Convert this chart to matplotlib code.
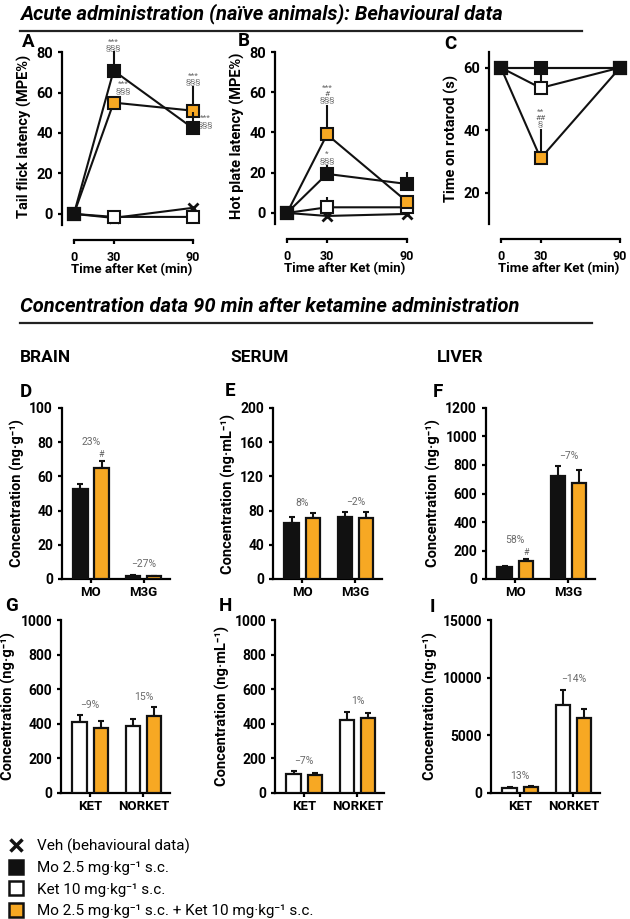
import matplotlib
matplotlib.use('Agg')
import matplotlib.pyplot as plt
from matplotlib.lines import Line2D
import numpy as np

plt.rcParams['font.family'] = ['Roboto', 'DejaVu Sans']
plt.rcParams['font.weight'] = 'bold'
plt.rcParams['axes.labelweight'] = 'bold'

W, H = 630, 919
ORANGE = '#F7A823'
BLACK = '#111111'
GREY = '#6a6a6a'

# --- behavioural data (time course) ---
times = [0, 30, 90]

tail_veh = [0, -2, 3]
tail_mo = [0, 70.8, 42.3]
tail_mo_err = [0, 9.5, 8]
tail_ket = [0, -1.5, -1.5]
tail_ket_err = [0, 1, 1]
tail_combo = [0, 55, 51]
tail_combo_err = [0, 3, 12]

hot_veh = [0, -1.5, -0.5]
hot_mo = [0, 19.4, 14.4]
hot_mo_err = [0, 4.5, 6]
hot_ket = [0, 2.8, 2.8]
hot_ket_err = [0, 5, 2]
hot_combo = [0, 39, 5.6]
hot_combo_err = [0, 14.6, 3]

rot_veh = [60, 60, 60]
rot_mo = [60, 60, 60]
rot_mo_err = [0, 0, 0]
rot_ket = [60, 53.5, 60]
rot_ket_err = [0, 6.5, 0]
rot_combo = [60, 31, 60]
rot_combo_err = [0, 9.5, 0]

# --- concentrations 90 min ---
mo_cats = ['MO', 'M3G']
ket_cats = ['KET', 'NORKET']

brain_mo = [52.5, 2.0]
brain_mo_err = [3, 0.5]
brain_mo_combo = [65, 1.5]
brain_mo_combo_err = [4, 0.3]

serum_mo = [66, 72]
serum_mo_err = [7, 6]
serum_mo_combo = [71, 71]
serum_mo_combo_err = [6, 7]

liver_mo = [82, 726]
liver_mo_err = [8, 65]
liver_mo_combo = [128, 672]
liver_mo_combo_err = [12, 96]

brain_ket = [413, 388]
brain_ket_err = [35, 39]
brain_ket_combo = [375, 446]
brain_ket_combo_err = [42, 50]

serum_ket = [110, 423]
serum_ket_err = [15, 48]
serum_ket_combo = [102, 433]
serum_ket_combo_err = [13, 32]

liver_ket = [432, 7640]
liver_ket_err = [100, 1290]
liver_ket_combo = [490, 6540]
liver_ket_combo_err = [100, 750]

pct_D = ['23%', '\u221227%']
pct_E = ['8%', '\u22122%']
pct_F = ['58%', '\u22127%']
pct_G = ['\u22129%', '15%']
pct_H = ['\u22127%', '1%']
pct_I = ['13%', '\u221214%']

fig = plt.figure(figsize=(W / 100, H / 100), dpi=100)


def px_axes(x0, y0, x1, y1):
    return fig.add_axes([x0 / W, 1 - y1 / H, (x1 - x0) / W, (y1 - y0) / H])


def ftext(x, y, s, **kw):
    fig.text(x / W, 1 - y / H, s, **kw)


def style(ax):
    for s in ['top', 'right']:
        ax.spines[s].set_visible(False)
    for s in ['left', 'bottom']:
        ax.spines[s].set_linewidth(1.6)
    ax.tick_params(direction='out', length=3, width=1.6)


def time_panel(rect, ylim, yticks, ylabel, veh, ket, ket_err, combo, combo_err, mo, mo_err, spine_top):
    ax = px_axes(*rect)
    style(ax)
    zero = np.zeros(3)
    groups = [
        (ket, ket_err, 'white', 3),
        (combo, combo_err, ORANGE, 4),
        (mo, mo_err, BLACK, 5),
    ]
    ax.plot(times, veh, color=BLACK, lw=1.5, marker='x', ms=7, mew=2, zorder=2, clip_on=False)
    for vals, err, fc, z in groups:
        ax.errorbar(times, vals, yerr=[zero, err], fmt='none', ecolor=BLACK, elinewidth=1.5,
                    capsize=0, zorder=z - 0.5, clip_on=False)
        ax.plot(times, vals, color=BLACK, lw=1.5, marker='s', ms=9, mfc=fc, mec=BLACK, mew=1.5,
                zorder=z, clip_on=False)
    ax.set_xlim(-9, 96)
    ax.set_ylim(*ylim)
    ax.set_yticks(yticks)
    ax.set_xticks(times)
    ax.tick_params(axis='y', labelsize=10.5)
    ax.tick_params(axis='x', labelsize=9, pad=5)
    ax.spines['bottom'].set_position(('outward', 10.8))
    ax.spines['bottom'].set_bounds(0, 90)
    ax.spines['left'].set_bounds(ylim[0], spine_top)
    ax.set_xlabel('Time after Ket (min)', fontsize=9.5, labelpad=-1)
    ax.set_ylabel(ylabel, fontsize=10.5, labelpad=3)
    return ax


def ann(ax, x, y, s, va='bottom'):
    ax.text(x, y, s, ha='center', va=va, fontsize=6, color=GREY, fontweight='normal',
            linespacing=0.95, clip_on=False)


# ---- Panel A ----
axA = time_panel((62, 48, 201, 225), (-5.5, 82), [0, 20, 40, 60, 80], 'Tail flick latency (MPE%)',
                 tail_veh, tail_ket, tail_ket_err, tail_combo, tail_combo_err, tail_mo, tail_mo_err, 80)
ann(axA, 30, 80.5, '***\n\u00a7\u00a7\u00a7')
ann(axA, 37, 62.5, '***\n\u00a7\u00a7\u00a7', va='center')
ann(axA, 90, 63.5, '***\n\u00a7\u00a7\u00a7')
ann(axA, 99.5, 45.7, '***\n\u00a7\u00a7\u00a7', va='center')

# ---- Panel B ----
axB = time_panel((275, 48, 415, 224), (-5.5, 82), [0, 20, 40, 60, 80], 'Hot plate latency (MPE%)',
                 hot_veh, hot_ket, hot_ket_err, hot_combo, hot_combo_err, hot_mo, hot_mo_err, 80)
ann(axB, 30, 54.5, '***\n#\n\u00a7\u00a7\u00a7')
ann(axB, 30, 24.5, '*\n\u00a7\u00a7\u00a7')

# ---- Panel C ----
axC = time_panel((489, 52, 628, 224), (10, 65), [20, 40, 60], 'Time on rotarod (s)',
                 rot_veh, rot_ket, rot_ket_err, rot_combo, rot_combo_err, rot_mo, rot_mo_err, 65)
ann(axC, 30, 41, '**\n##\n\u00a7')


# ---- bar panels ----
def bar_panel(rect, cats, a_vals, a_err, a_color, b_vals, b_err, ylim, yticks, ylabel, pct, hash_idx=None):
    ax = px_axes(*rect)
    style(ax)
    x = np.arange(len(cats))
    w, off = 0.27, 0.2
    kw = dict(width=w, edgecolor=BLACK, linewidth=1.6, zorder=3)
    ekw = dict(ecolor=BLACK, elinewidth=1.5, capsize=2, capthick=1.5, fmt='none', zorder=2)
    zero = np.zeros(len(cats))
    ax.errorbar(x - off, a_vals, yerr=[zero, a_err], **ekw)
    ax.errorbar(x + off, b_vals, yerr=[zero, b_err], **ekw)
    ax.bar(x - off, a_vals, color=a_color, **kw)
    ax.bar(x + off, b_vals, color=ORANGE, **kw)
    ax.set_xlim(-0.55, 1.5)
    ax.set_ylim(*ylim)
    ax.set_yticks(yticks)
    ax.set_xticks(x)
    ax.set_xticklabels(cats)
    ax.tick_params(axis='y', labelsize=10)
    ax.tick_params(axis='x', labelsize=9.5, pad=2)
    ax.set_ylabel(ylabel, fontsize=10.5, labelpad=3)
    tops = [max(a + ae, b + be) for a, ae, b, be in zip(a_vals, a_err, b_vals, b_err)]
    for i, t in enumerate(tops):
        extra = 0
        if hash_idx is not None and i == hash_idx:
            ax.annotate('#', (x[i] + off, b_vals[i] + b_err[i]), xytext=(0, 1.5), textcoords='offset points',
                        ha='center', va='bottom', fontsize=6.5, color=GREY, fontweight='normal')
            extra = 6
        ax.annotate(pct[i], (x[i], t), xytext=(0, 4 + extra), textcoords='offset points',
                    ha='center', va='bottom', fontsize=7.5, color=GREY, fontweight='normal')
    return ax


lab_mo_g = 'Concentration (ng\u00b7g\u207b\u00b9)'
lab_mo_ml = 'Concentration (ng\u00b7mL\u207b\u00b9)'

bar_panel((62, 408, 170, 579), mo_cats, brain_mo, brain_mo_err, BLACK, brain_mo_combo, brain_mo_combo_err,
          (0, 100), [0, 20, 40, 60, 80, 100], lab_mo_g, pct_D, hash_idx=0)
bar_panel((273, 408, 382, 579), mo_cats, serum_mo, serum_mo_err, BLACK, serum_mo_combo, serum_mo_combo_err,
          (0, 200), [0, 40, 80, 120, 160, 200], lab_mo_ml, pct_E)
bar_panel((486, 408, 595, 579), mo_cats, liver_mo, liver_mo_err, BLACK, liver_mo_combo, liver_mo_combo_err,
          (0, 1200), [0, 200, 400, 600, 800, 1000, 1200], lab_mo_g, pct_F, hash_idx=0)

bar_panel((61, 620, 170, 793), ket_cats, brain_ket, brain_ket_err, 'white', brain_ket_combo, brain_ket_combo_err,
          (0, 1000), [0, 200, 400, 600, 800, 1000], lab_mo_g, pct_G)
bar_panel((275, 620, 384, 793), ket_cats, serum_ket, serum_ket_err, 'white', serum_ket_combo, serum_ket_combo_err,
          (0, 1000), [0, 200, 400, 600, 800, 1000], lab_mo_ml, pct_H)
bar_panel((491, 620, 600, 793), ket_cats, liver_ket, liver_ket_err, 'white', liver_ket_combo, liver_ket_combo_err,
          (0, 15000), [0, 5000, 10000, 15000], lab_mo_g, pct_I)

# ---- panel letters ----
for lx, ly, s in [(28, 42, 'A'), (244, 41, 'B'), (450, 44, 'C'),
                  (26, 392, 'D'), (230, 391, 'E'), (438, 392, 'F'),
                  (11, 606, 'G'), (225, 606, 'H'), (432, 607, 'I')]:
    ftext(lx, ly, s, fontsize=13.5, ha='center', va='center')

# ---- titles ----
ftext(20, 14, 'Acute administration (na\u00efve animals): Behavioural data', fontsize=14.5,
      fontstyle='italic', ha='left', va='center')
fig.add_artist(Line2D([20 / W, 582 / W], [1 - 31 / H] * 2, color='#222222', lw=1.6))
ftext(20, 307, 'Concentration data 90 min after ketamine administration', fontsize=14.5,
      fontstyle='italic', ha='left', va='center')
fig.add_artist(Line2D([20 / W, 592 / W], [1 - 323 / H] * 2, color='#222222', lw=1.6))

for lx, s in [(20, 'BRAIN'), (230, 'SERUM'), (437, 'LIVER')]:
    ftext(lx, 357, s, fontsize=12.5, ha='left', va='center')

# ---- legend ----
handles = [
    Line2D([], [], ls='none', marker='x', ms=9, mew=2.5, color=BLACK),
    Line2D([], [], ls='none', marker='s', ms=10.5, mfc=BLACK, mec=BLACK, mew=1.8),
    Line2D([], [], ls='none', marker='s', ms=10.5, mfc='white', mec=BLACK, mew=1.8),
    Line2D([], [], ls='none', marker='s', ms=10.5, mfc=ORANGE, mec=BLACK, mew=1.8),
]
labels = [
    'Veh (behavioural data)',
    'Mo 2.5 mg\u00b7kg\u207b\u00b9 s.c.',
    'Ket 10 mg\u00b7kg\u207b\u00b9 s.c.',
    'Mo 2.5 mg\u00b7kg\u207b\u00b9 s.c. + Ket 10 mg\u00b7kg\u207b\u00b9 s.c.',
]
fig.legend(handles, labels, loc='lower left', bbox_to_anchor=(8 / W, 1 - 918 / H), frameon=False,
           prop={'size': 11, 'weight': 'normal'}, handlelength=1.0, handletextpad=0.9,
           labelspacing=0.48, borderpad=0, borderaxespad=0)

fig.savefig('out.png', dpi=100)
